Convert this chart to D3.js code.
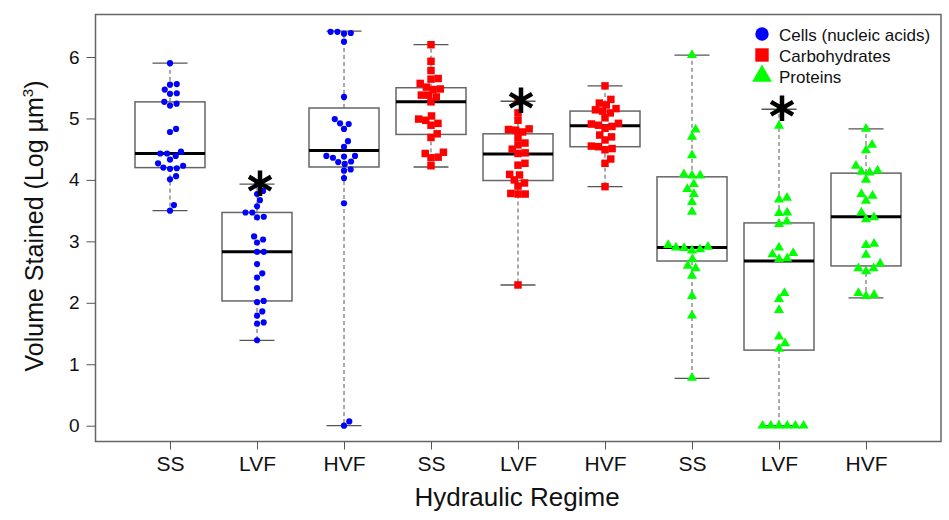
<!DOCTYPE html>
<html>
<head>
<meta charset="utf-8">
<script src="https://cdn.jsdelivr.net/npm/d3@7"></script>
<style>
body{margin:0;background:#fff;}
text{font-family:"Liberation Sans",Arial,sans-serif;fill:#111;}
</style>
</head>
<body>
<svg id="chart" width="949" height="520"></svg>
<script>
// categories on the x axis (3 stains x 3 regimes)
var regimes = ["SS","LVF","HVF","SS","LVF","HVF","SS","LVF","HVF"];
var stains = ["Cells (nucleic acids)","Carbohydrates","Proteins"];
var stainColors = ["#0000ff","#ff0000","#00ff00"];
var groupStain = [0,0,0,1,1,1,2,2,2];
var yTicks = [0,1,2,3,4,5,6];

// individual samples (Log um^3)
var cellsSS  = [5.90,5.55,5.56,5.47,5.40,5.41,5.27,5.21,5.24,4.78,4.83,4.43,4.43,4.46,4.39,4.33,4.23,4.19,4.18,4.20,4.27,4.01,4.06,3.59,3.50];
var cellsLVF = [3.93,3.82,3.77,3.67,3.57,3.47,3.47,3.39,3.40,3.08,2.98,3.03,2.83,2.83,2.63,2.41,2.48,2.24,2.01,2.03,1.79,1.86,1.66,1.68,1.39];
var cellsHVF = [6.41,6.39,6.38,6.41,6.25,5.35,4.99,4.92,4.91,4.83,4.63,4.54,4.39,4.38,4.39,4.36,4.30,4.26,4.29,4.17,4.15,4.03,3.62,0.07,0.00];
var carbSS   = [6.20,5.93,5.78,5.64,5.65,5.57,5.51,5.47,5.48,5.38,5.38,5.35,5.27,5.04,4.97,4.99,4.89,4.92,4.75,4.69,4.45,4.43,4.36,4.37,4.23];
var carbLVF  = [5.28,5.09,4.97,4.82,4.81,4.78,4.83,4.69,4.60,4.57,4.50,4.43,4.44,4.24,4.27,4.08,4.09,4.00,3.95,3.90,3.78,3.77,3.77,2.29];
var carbHVF  = [5.53,5.31,5.25,5.22,5.16,5.14,5.12,5.09,5.01,4.92,4.91,4.89,4.87,4.84,4.73,4.70,4.65,4.55,4.54,4.51,4.49,4.34,4.27,3.89];
var protSS   = [6.03,4.82,4.70,4.40,4.09,4.07,4.07,3.93,3.85,3.77,3.64,3.48,2.91,2.89,2.85,2.87,2.90,2.94,2.71,2.60,2.56,2.44,2.11,1.79,0.78];
var protLVF  = [5.15,4.88,3.68,3.71,3.46,3.47,3.32,3.28,2.90,2.81,2.79,2.71,2.72,2.16,2.06,1.88,1.45,1.34,1.25,0,0,0,0,0,0];
var protHVF  = [4.83,4.57,4.48,4.23,4.15,4.12,4.13,4.00,3.77,3.74,3.66,3.47,3.39,3.36,2.94,2.96,2.78,2.64,2.56,2.56,2.51,2.16,2.11,2.13];
var groupValues = [cellsSS,cellsLVF,cellsHVF,carbSS,carbLVF,carbHVF,protSS,protLVF,protHVF];

// box statistics as drawn in the figure
var lowerWhisker = [3.50,1.39,0.00,4.21,2.29,3.89,0.77,0.00,2.08];
var lowerHinge   = [4.20,2.03,4.21,4.74,3.99,4.54,2.68,1.23,2.60];
var medians      = [4.43,2.83,4.48,5.27,4.42,4.88,2.90,2.68,3.40];
var upperHinge   = [5.27,3.47,5.17,5.50,4.75,5.12,4.05,3.30,4.11];
var upperWhisker = [5.90,3.93,6.42,6.20,5.28,5.53,6.03,5.15,4.83];
var significant  = [false,true,false,false,true,false,false,true,false];

var svg = d3.select("#chart");
var frame = {left:95.5, top:14.5, right:941, bottom:441.5};
var boxW = 70;

//Step1:- scales
var xScale = d3.scalePoint().domain(d3.range(regimes.length)).range([170,866]);
var yScale = d3.scaleLinear().domain([0,6]).range([425.7,57]);

var symbolTypes = [d3.symbolCircle, d3.symbolSquare, d3.symbolTriangle];
var symbolSizes = [30, 56, 44];
var swarmGap = [6.8, 7.2, 8.2];

// beeswarm: put each point as close to the centre as it can go without overlap
function swarm(vals, gap){
    var pts = vals.map(function(v){ return {v:v, y:yScale(v), dx:0}; })
                  .sort(function(a,b){ return b.y-a.y; });
    var placed = [];
    pts.forEach(function(p){
        var cands = [0];
        placed.forEach(function(q){
            var dy = Math.abs(q.y-p.y);
            if(dy<gap){
                var off = Math.sqrt(gap*gap-dy*dy);
                cands.push(q.dx+off, q.dx-off);
            }
        });
        cands.sort(function(a,b){ return Math.abs(a)-Math.abs(b); });
        for(var i=0;i<cands.length;i++){
            var c = cands[i];
            var ok = placed.every(function(q){ return (q.dx-c)*(q.dx-c)+(q.y-p.y)*(q.y-p.y) >= gap*gap-0.01; });
            if(ok){ p.dx = c; break; }
        }
        placed.push(p);
    });
    return pts;
}

//Step2:- frame and axes
svg.append("rect")
    .attr("x", frame.left).attr("y", frame.top)
    .attr("width", frame.right-frame.left).attr("height", frame.bottom-frame.top)
    .attr("fill", "none").attr("stroke", "#666").attr("stroke-width", 1.5);

var leftAxis = d3.axisLeft(yScale).tickValues(yTicks).tickSize(9).tickPadding(7).tickFormat(d3.format("d"));
var yAxis = svg.append("g").attr("transform", `translate(${frame.left},0)`).call(leftAxis);
yAxis.select(".domain").remove();
yAxis.selectAll("line").attr("stroke", "#555");
yAxis.selectAll("text").attr("font-size", 19).attr("fill", "#111");

var bottomAxis = d3.axisBottom(xScale).tickSize(8).tickPadding(7).tickFormat(function(i){ return regimes[i]; });
var xAxis = svg.append("g").attr("transform", `translate(0,${frame.bottom})`).call(bottomAxis);
xAxis.select(".domain").remove();
xAxis.selectAll("line").attr("stroke", "#555");
xAxis.selectAll("text").attr("font-size", 21).attr("fill", "#111");

//Step3:- boxes
var boxes = svg.selectAll(".box").data(d3.range(regimes.length)).enter().append("g").attr("class","box");

boxes.append("line")
    .attr("x1", d=>xScale(d)).attr("x2", d=>xScale(d))
    .attr("y1", d=>yScale(upperHinge[d])).attr("y2", d=>yScale(upperWhisker[d]))
    .attr("stroke", "#555").attr("stroke-dasharray", "4,3");
boxes.append("line")
    .attr("x1", d=>xScale(d)).attr("x2", d=>xScale(d))
    .attr("y1", d=>yScale(lowerHinge[d])).attr("y2", d=>yScale(lowerWhisker[d]))
    .attr("stroke", "#555").attr("stroke-dasharray", "4,3");
boxes.append("line")
    .attr("x1", d=>xScale(d)-boxW/4).attr("x2", d=>xScale(d)+boxW/4)
    .attr("y1", d=>yScale(upperWhisker[d])).attr("y2", d=>yScale(upperWhisker[d]))
    .attr("stroke", "#555").attr("stroke-width", 1.3);
boxes.append("line")
    .attr("x1", d=>xScale(d)-boxW/4).attr("x2", d=>xScale(d)+boxW/4)
    .attr("y1", d=>yScale(lowerWhisker[d])).attr("y2", d=>yScale(lowerWhisker[d]))
    .attr("stroke", "#555").attr("stroke-width", 1.3);
boxes.append("rect")
    .attr("x", d=>xScale(d)-boxW/2).attr("width", boxW)
    .attr("y", d=>yScale(upperHinge[d]))
    .attr("height", d=>yScale(lowerHinge[d])-yScale(upperHinge[d]))
    .attr("fill", "none").attr("stroke", "#666").attr("stroke-width", 1.5);
boxes.append("line")
    .attr("x1", d=>xScale(d)-boxW/2).attr("x2", d=>xScale(d)+boxW/2)
    .attr("y1", d=>yScale(medians[d])).attr("y2", d=>yScale(medians[d]))
    .attr("stroke", "#000").attr("stroke-width", 3);

//Step4:- points
groupValues.forEach(function(vals, i){
    var s = groupStain[i];
    var sym = d3.symbol().type(symbolTypes[s]).size(symbolSizes[s]);
    svg.append("g").selectAll("path")
        .data(swarm(vals, swarmGap[s]))
        .enter().append("path")
        .attr("d", sym)
        .attr("transform", d=>`translate(${xScale(i)+d.dx},${d.y})`)
        .attr("fill", stainColors[s]);
});

//Step5:- significance asterisks
var asteriskType = d3.symbolAsterisk || {draw:function(ctx, size){
    var r = Math.sqrt(size)*0.594, t = r/2, u = t*Math.sqrt(3);
    ctx.moveTo(0,r); ctx.lineTo(0,-r);
    ctx.moveTo(-u,-t); ctx.lineTo(u,t);
    ctx.moveTo(-u,t); ctx.lineTo(u,-t);
}};
svg.append("g").selectAll("path")
    .data(d3.range(regimes.length).filter(d=>significant[d]))
    .enter().append("path")
    .attr("d", d3.symbol().type(asteriskType).size(460))
    .attr("transform", d=>`translate(${xScale(d)+3},${yScale(upperWhisker[d])-1})`)
    .attr("fill", "none").attr("stroke", "#000").attr("stroke-width", 4.5);

//Step6:- axis titles
svg.append("text")
    .attr("x", 517).attr("y", 506)
    .attr("text-anchor", "middle").attr("font-size", 26)
    .text("Hydraulic Regime");

var yTitle = svg.append("text")
    .attr("transform", "translate(43,226) rotate(-90)")
    .attr("text-anchor", "middle").attr("font-size", 25);
yTitle.append("tspan").text("Volume Stained (Log µm");
yTitle.append("tspan").attr("dy", -10).attr("font-size", 15).text("3");
yTitle.append("tspan").attr("dy", 10).text(")");

//Step7:- legend
var legend = svg.append("g").selectAll("g").data(stains).enter().append("g")
    .attr("transform", (d,i)=>`translate(762,${34+i*21})`);
legend.append("path")
    .attr("d", (d,i)=>d3.symbol().type(symbolTypes[i]).size([140,180,170][i])())
    .attr("fill", (d,i)=>stainColors[i]);
legend.append("text")
    .attr("x", 17).attr("y", 6.5)
    .attr("font-size", 17)
    .text(d=>d);
</script>
</body>
</html>
